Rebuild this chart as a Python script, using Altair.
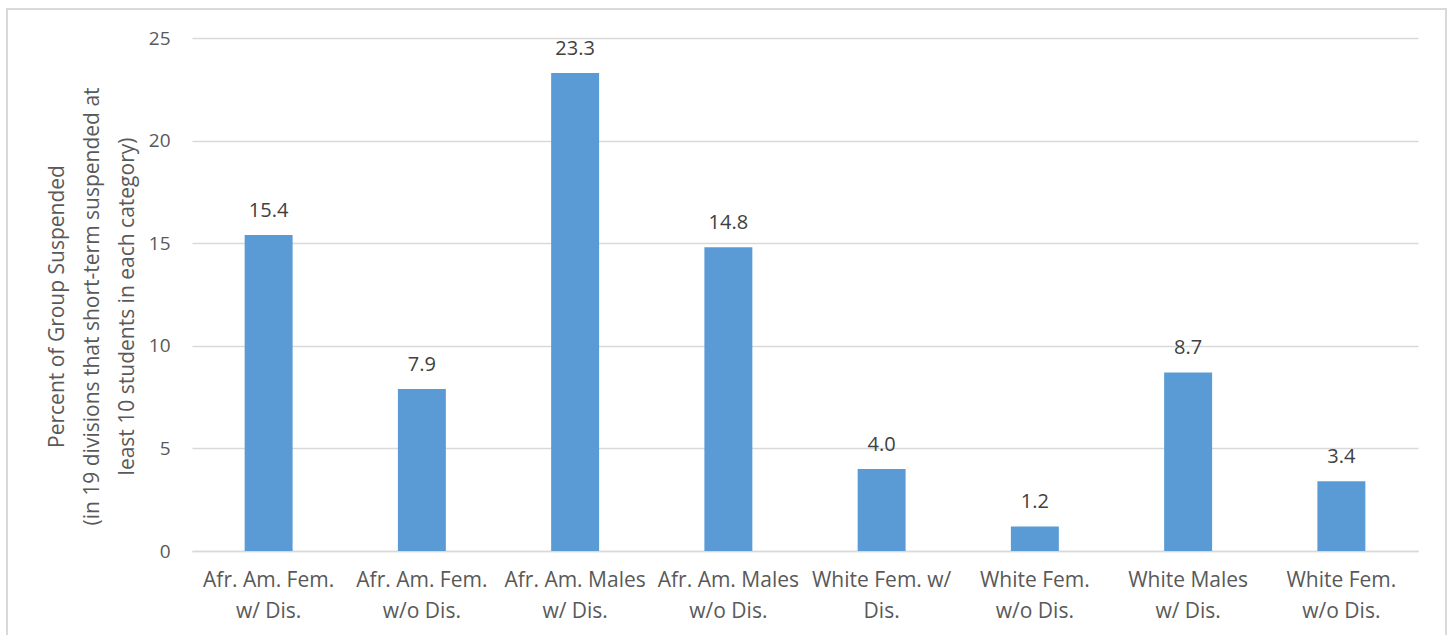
import json
import altair as alt
import pandas as pd

# Category labels (two lines each) and suspension percentages
line1 = ["Afr. Am. Fem.", "Afr. Am. Fem.", "Afr. Am. Males", "Afr. Am. Males",
         "White Fem. w/", "White Fem.", "White Males", "White Fem."]
line2 = ["w/ Dis.", "w/o Dis.", "w/ Dis.", "w/o Dis.",
         "Dis.", "w/o Dis.", "w/ Dis.", "w/o Dis."]
values = [15.4, 7.9, 23.3, 14.8, 4.0, 1.2, 8.7, 3.4]
y_ticks = [0, 5, 10, 15, 20, 25]

df = pd.DataFrame({
    "idx": list(range(len(values))),
    "pct": values,
    "lbl": [f"{v:.1f}" for v in values],
})

label_table = json.dumps([[a, b] for a, b in zip(line1, line2)])
FONT = "Open Sans"

x_enc = alt.X(
    "idx:O",
    title=None,
    scale=alt.Scale(paddingInner=0.687, paddingOuter=0.3435),
    axis=alt.Axis(
        labelExpr=f"{label_table}[datum.value]",
        labelAngle=0, labelFontSize=21, labelColor="#595959", labelFont=FONT,
        labelLineHeight=31, labelPadding=18, ticks=False,
        domainColor="#d9d9d9", domainWidth=1.3, grid=False,
    ),
)
y_enc = alt.Y(
    "pct:Q",
    title=["Percent of Group Suspended",
           "(in 19 divisions that short-term suspended at",
           "least 10 students in each category)"],
    scale=alt.Scale(domain=[0, 25], nice=False),
    axis=alt.Axis(
        values=y_ticks, labelFontSize=19, labelColor="#595959", labelFont=FONT,
        labelPadding=22, ticks=False, domain=False,
        gridColor="#d9d9d9", gridWidth=1.3,
        titleFont=FONT, titleFontSize=21, titleFontWeight="normal",
        titleColor="#595959", titleLineHeight=35, titlePadding=11,
        titleY=268,
    ),
)

bars = alt.Chart(df).mark_bar(color="#5B9BD5").encode(x=x_enc, y=y_enc)

labels = alt.Chart(df).mark_text(
    dy=-18, fontSize=20, color="#404040", font=FONT, baseline="alphabetic"
).encode(x=alt.X("idx:O"), y=alt.Y("pct:Q"), text="lbl:N")

frame = alt.Chart(df).mark_rect(
    fill=None, stroke="#d9d9d9", strokeWidth=1.5
).encode(
    x=alt.value(-185), x2=alt.value(1254),
    y=alt.value(-29), y2=alt.value(700),
)

chart = alt.layer(frame, bars, labels).properties(
    width=1226, height=513,
    autosize=alt.AutoSizeParams(type="none"),
    padding={"left": 192, "top": 38, "right": 32, "bottom": 84},
    background="white",
).configure_view(stroke=None)

chart.save("out.html", embed_options={"renderer": "svg", "actions": False})
